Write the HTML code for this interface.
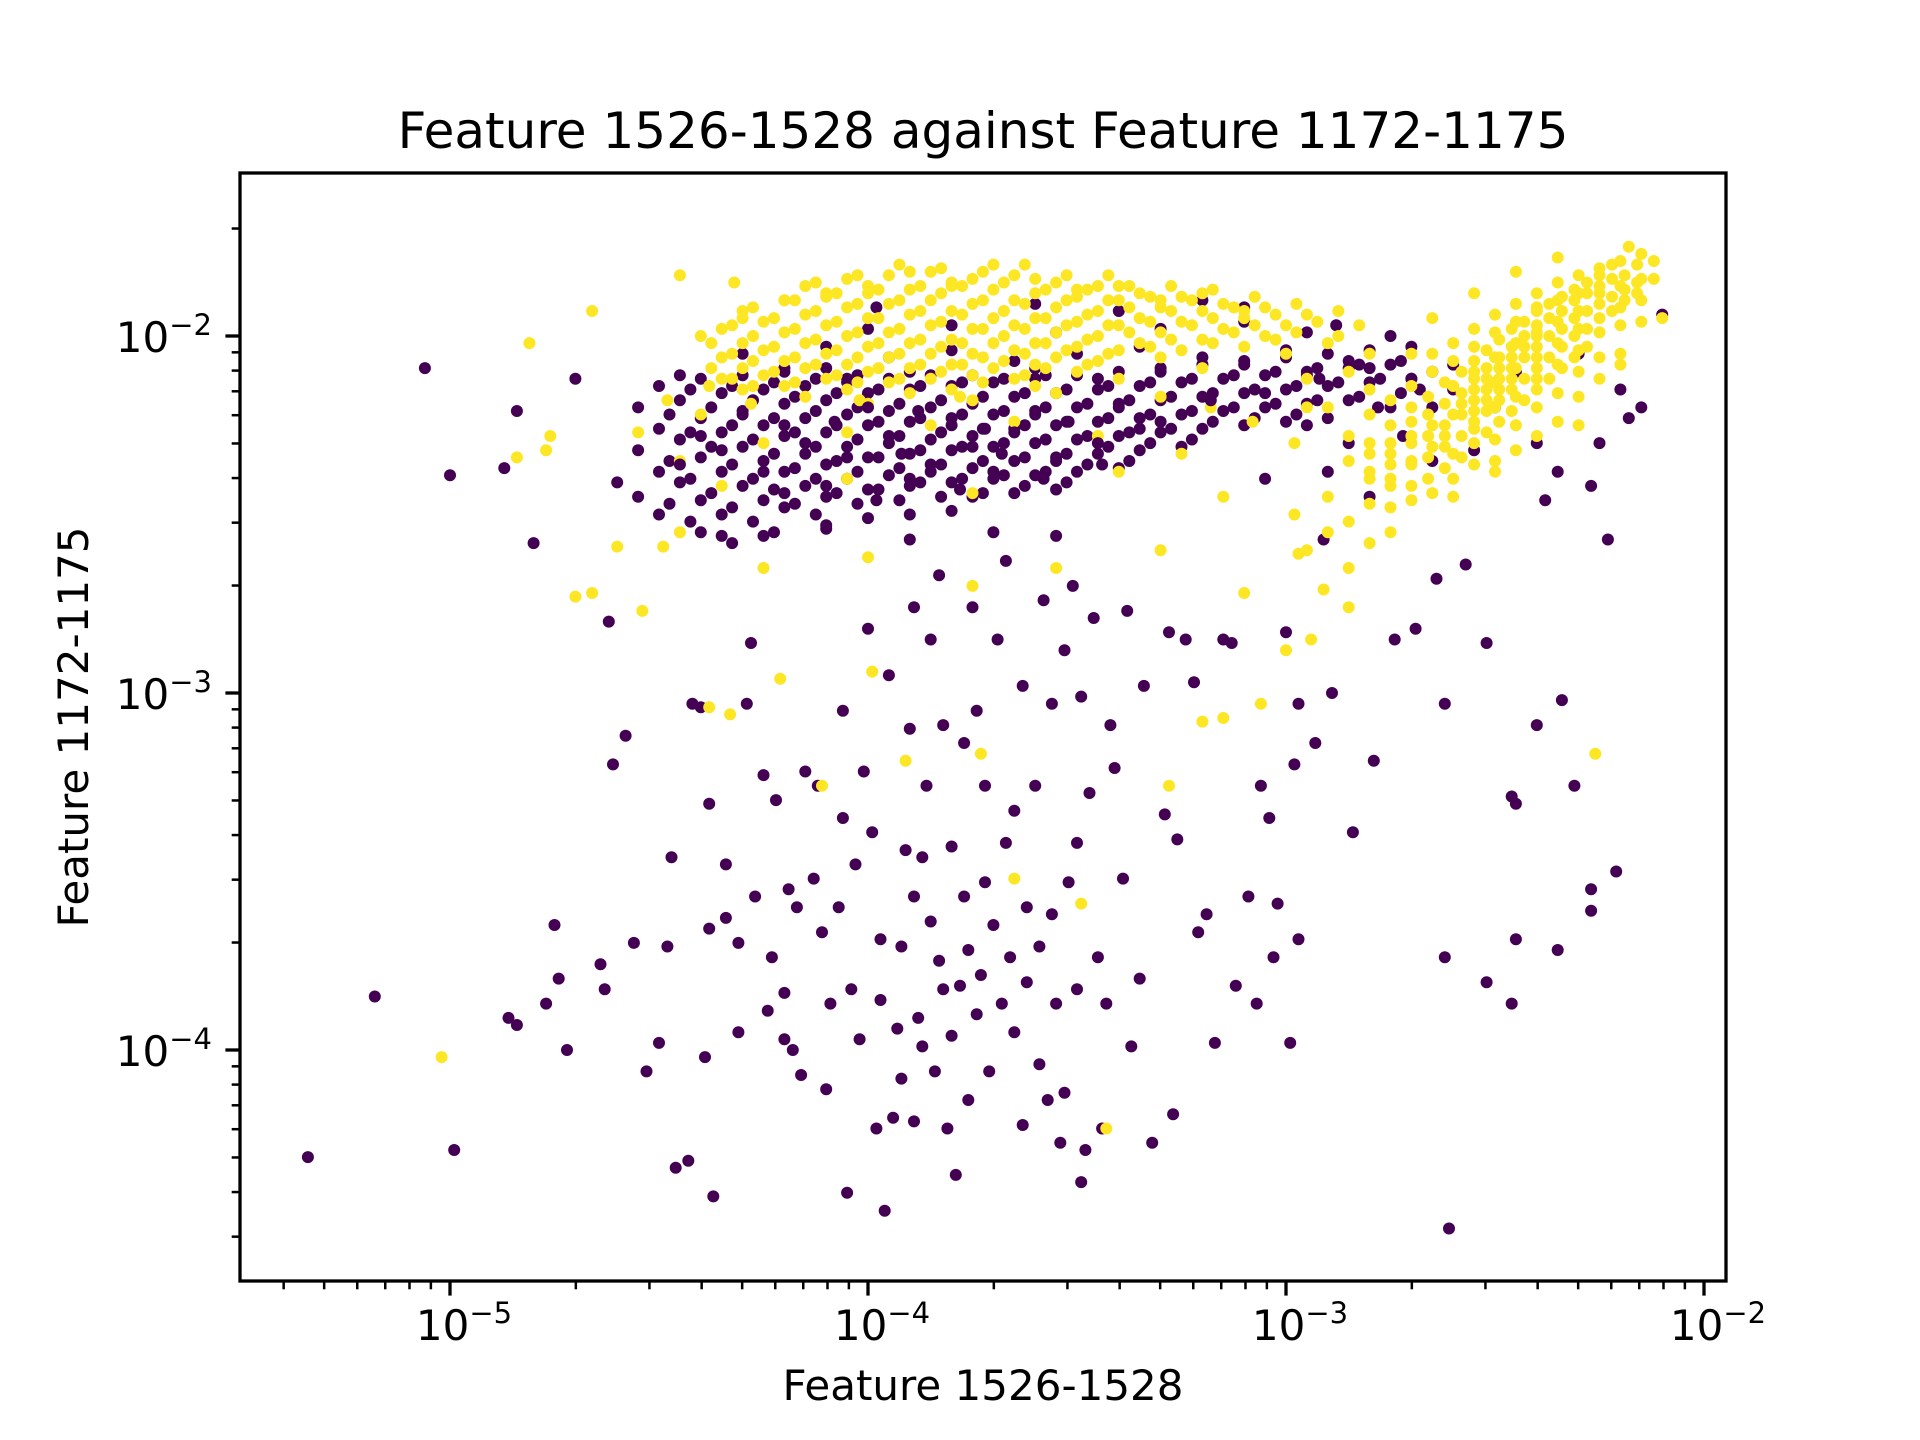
<!DOCTYPE html>
<html><head><meta charset="utf-8"><style>
html,body{margin:0;padding:0;background:#fff;}
svg{display:block;font-family:"DejaVu Sans","Liberation Sans",sans-serif;}
</style></head><body>
<svg id="chart" width="1920" height="1440" viewBox="0 0 1920 1440" xmlns="http://www.w3.org/2000/svg">
<rect width="1920" height="1440" fill="#fff"/>
<text x="983" y="148" font-size="50" text-anchor="middle" fill="#000">Feature 1526-1528 against Feature 1172-1175</text>
<text x="983" y="1400" font-size="42" text-anchor="middle" fill="#000">Feature 1526-1528</text>
<text transform="translate(88,727) rotate(-90)" font-size="42" text-anchor="middle" fill="#000">Feature 1172-1175</text>
<g id="marks"></g>
<g id="axes"></g>
</svg>
<script>
// log10 coordinates [log10(x), log10(y)]
const purpleSparse = [[-5.34,-4.30],[-5.18,-3.85],[-5.06,-2.09],[-5.0,-2.39],[-4.99,-4.28],[-4.86,-3.91],[-4.84,-3.93],[-4.84,-2.21],[-4.87,-2.37],[-4.80,-2.58],[-4.77,-3.87],[-4.75,-3.65],[-4.74,-3.80],[-4.72,-4.0],[-4.70,-2.12],[-4.64,-3.76],[-4.63,-3.83],[-4.62,-2.80],[-4.61,-3.20],[-4.58,-3.12],[-4.56,-3.70],[-4.53,-4.06],[-4.50,-3.98],[-4.48,-3.71],[-4.47,-3.46],[-4.46,-4.33],[-4.43,-4.31],[-4.39,-4.02],[-4.38,-3.66],[-4.38,-3.31],[-4.37,-4.41],[-4.40,-3.04],[-4.42,-3.03],[-4.34,-3.63],[-4.34,-3.48],[-4.31,-3.70],[-4.31,-3.95],[-4.29,-3.03],[-4.28,-2.86],[-4.27,-3.57],[-4.25,-3.23],[-4.24,-3.89],[-4.23,-3.74],[-4.22,-3.30],[-4.20,-3.97],[-4.20,-3.84],[-4.19,-3.55],[-4.18,-4.0],[-4.17,-3.60],[-4.16,-4.07],[-4.15,-3.22],[-4.13,-3.52],[-4.12,-3.26],[-4.11,-3.67],[-4.10,-4.11],[-4.09,-3.87],[-4.07,-3.60],[-4.06,-3.35],[-4.06,-3.05],[-4.05,-4.40],[-4.04,-3.83],[-4.03,-3.48],[-4.02,-3.97],[-4.01,-3.22],[-4.0,-2.82],[-3.99,-3.39],[-3.98,-4.22],[-3.97,-3.69],[-3.97,-3.86],[-3.96,-4.45],[-3.95,-2.95],[-3.94,-4.19],[-3.93,-3.94],[-3.92,-3.71],[-3.92,-4.08],[-3.91,-3.44],[-3.90,-3.10],[-3.89,-3.57],[-3.89,-2.76],[-3.89,-4.20],[-3.88,-3.91],[-3.87,-3.46],[-3.87,-3.99],[-3.86,-3.26],[-3.85,-2.85],[-3.85,-3.64],[-3.84,-4.06],[-3.83,-3.75],[-3.83,-2.67],[-3.82,-3.83],[-3.82,-3.09],[-3.81,-4.22],[-3.80,-3.43],[-3.80,-3.96],[-3.79,-4.35],[-3.78,-3.82],[-3.77,-3.57],[-3.77,-3.14],[-3.76,-4.14],[-3.76,-3.72],[-3.75,-2.76],[-3.74,-3.05],[-3.74,-3.90],[-3.73,-3.79],[-3.72,-3.53],[-3.72,-3.26],[-3.71,-4.06],[-3.70,-3.65],[-3.69,-2.85],[-3.68,-3.87],[-3.67,-3.42],[-3.67,-2.63],[-3.66,-3.74],[-3.65,-3.95],[-3.65,-3.33],[-3.63,-4.21],[-3.63,-2.98],[-3.62,-3.60],[-3.62,-3.81],[-3.60,-3.26],[-3.59,-4.04],[-3.59,-3.71],[-3.58,-2.74],[-3.57,-4.14],[-3.56,-3.03],[-3.56,-3.62],[-3.55,-3.87],[-3.54,-4.26],[-3.53,-2.88],[-3.53,-4.12],[-3.52,-3.53],[-3.51,-2.70],[-3.50,-3.42],[-3.50,-3.83],[-3.49,-4.37],[-3.49,-3.01],[-3.48,-4.28],[-3.47,-3.28],[-3.46,-2.79],[-3.45,-3.74],[-3.44,-4.22],[-3.43,-3.87],[-3.42,-3.09],[-3.41,-3.21],[-3.39,-3.52],[-3.38,-2.77],[-3.37,-3.99],[-3.35,-3.80],[-3.34,-2.98],[-3.32,-4.26],[-3.29,-3.34],[-3.28,-2.83],[-3.27,-4.18],[-3.26,-3.41],[-3.24,-2.85],[-3.22,-2.97],[-3.21,-3.67],[-3.19,-3.62],[-3.17,-3.98],[-3.15,-2.85],[-3.13,-2.86],[-3.12,-3.82],[-3.09,-3.57],[-3.07,-3.87],[-3.06,-3.26],[-3.04,-3.35],[-3.03,-3.74],[-3.02,-3.59],[-3.0,-2.83],[-2.99,-3.98],[-2.98,-3.20],[-2.97,-3.69],[-2.97,-3.03],[-2.93,-3.14],[-2.91,-2.57],[-2.89,-3.0],[-2.84,-3.39],[-2.79,-3.19],[-2.74,-2.85],[-2.69,-2.82],[-2.64,-2.68],[-2.62,-3.03],[-2.62,-3.74],[-2.61,-4.50],[-2.57,-2.64],[-2.52,-2.86],[-2.52,-3.81],[-2.46,-3.87],[-2.46,-3.29],[-2.45,-3.69],[-2.45,-3.31],[-2.40,-3.09],[-2.38,-2.46],[-2.34,-3.02],[-2.31,-3.26],[-2.27,-3.55],[-2.27,-3.61],[-2.27,-2.42],[-2.23,-2.57],[-2.21,-3.50],[-2.18,-2.23],[-2.10,-1.94],[-2.35,-3.72]];
const purpleCluster = [[-4.30,-2.05],[-4.10,-2.03],[-3.95,-2.06],[-3.80,-2.04],[-3.65,-2.07],[-3.50,-2.05],[-3.35,-2.03],[-3.20,-2.06],[-3.00,-2.04],[-2.85,-2.07],[-4.45,-2.11],[-4.20,-2.09],[-4.05,-2.12],[-3.90,-2.10],[-3.75,-2.11],[-3.60,-2.09],[-3.45,-2.12],[-3.30,-2.10],[-3.10,-2.08],[-2.95,-2.11],[-2.80,-2.09],[-2.70,-2.12],[-4.00,-1.98],[-3.80,-1.97],[-3.55,-1.99],[-3.30,-1.98],[-3.10,-1.96],[-2.95,-1.99],[-2.88,-1.97],[-2.75,-2.00],[-3.98,-1.92],[-3.60,-1.91],[-3.40,-1.93],[-3.20,-1.90],[-3.10,-1.92],[-2.95,-2.25],[-2.85,-2.30],[-2.78,-2.20],[-2.72,-2.28],[-2.68,-2.15],[-2.90,-2.38],[-2.80,-2.45],[-3.05,-2.40],[-2.60,-2.08],[-2.65,-2.35],[-2.50,-2.20],[-2.45,-2.10],[-2.40,-2.30],[-2.30,-2.05],[-2.35,-2.38],[-2.55,-2.32],[-2.20,-2.15],[-2.15,-2.20],[-2.25,-2.30],[-4.60,-2.41],[-4.35,-2.56],[-4.10,-2.54],[-3.90,-2.57],[-3.70,-2.55],[-3.55,-2.56]];
// rows: [log10(x), [log10(y) values]]
const purpleRows = [[-4.55,[-2.20,-2.32,-2.45]],[-4.50,[-2.14,-2.26,-2.38,-2.50]],[-4.45,[-2.18,-2.29,-2.41]],[-4.40,[-2.12,-2.23,-2.34,-2.46,-2.55]],[-4.35,[-2.16,-2.27,-2.38,-2.50]],[-4.30,[-2.11,-2.21,-2.31,-2.42]],[-4.25,[-2.15,-2.25,-2.35,-2.46,-2.56]],[-4.20,[-2.10,-2.19,-2.28,-2.38,-2.48]],[-4.15,[-2.14,-2.23,-2.33,-2.42]],[-4.10,[-2.09,-2.18,-2.27,-2.36,-2.45,-2.53]],[-4.05,[-2.13,-2.22,-2.31,-2.40]],[-4.00,[-2.16,-2.25,-2.34,-2.43,-2.51]],[-3.95,[-2.12,-2.21,-2.30,-2.39]],[-3.90,[-2.15,-2.24,-2.33,-2.42,-2.50]],[-3.85,[-2.11,-2.20,-2.29,-2.38]],[-3.80,[-2.14,-2.23,-2.32,-2.41,-2.49]],[-3.75,[-2.19,-2.28,-2.37,-2.45]],[-3.70,[-2.13,-2.22,-2.31,-2.40]],[-3.65,[-2.17,-2.26,-2.35,-2.44]],[-3.60,[-2.12,-2.21,-2.30,-2.39]],[-3.55,[-2.16,-2.25,-2.34,-2.43]],[-3.50,[-2.11,-2.20,-2.29,-2.38]],[-3.45,[-2.15,-2.24,-2.33]],[-3.40,[-2.10,-2.19,-2.28,-2.37]],[-3.35,[-2.14,-2.23,-2.32]],[-3.30,[-2.09,-2.18,-2.27]],[-3.25,[-2.13,-2.22,-2.31]],[-3.20,[-2.08,-2.17,-2.26]],[-3.15,[-2.12,-2.21]],[-3.10,[-2.07,-2.16,-2.25]],[-3.05,[-2.11,-2.20]],[-3.00,[-2.06,-2.15,-2.24]],[-2.95,[-2.10,-2.19]],[-2.90,[-2.05,-2.14,-2.23]],[-2.85,[-2.09,-2.18]],[-2.80,[-2.04,-2.13]],[-2.75,[-2.08,-2.20]],[-2.70,[-2.03,-2.12]]];
const purpleRows2 = [[-4.475,[-2.22,-2.35,-2.47]],[-4.425,[-2.15,-2.27,-2.40,-2.52]],[-4.375,[-2.20,-2.31,-2.44]],[-4.325,[-2.14,-2.25,-2.36,-2.48,-2.58]],[-4.275,[-2.18,-2.29,-2.40,-2.52]],[-4.225,[-2.13,-2.23,-2.33,-2.43,-2.55]],[-4.175,[-2.17,-2.27,-2.37,-2.47]],[-4.125,[-2.12,-2.21,-2.31,-2.40,-2.50]],[-4.075,[-2.16,-2.25,-2.35,-2.44]],[-4.025,[-2.11,-2.20,-2.29,-2.38,-2.47]],[-3.975,[-2.15,-2.24,-2.34,-2.43]],[-3.925,[-2.19,-2.28,-2.37,-2.46]],[-3.875,[-2.14,-2.23,-2.32,-2.41]],[-3.825,[-2.18,-2.27,-2.36,-2.45]],[-3.775,[-2.13,-2.22,-2.31,-2.40]],[-3.725,[-2.17,-2.26,-2.35,-2.44]],[-3.675,[-2.12,-2.21,-2.30,-2.39]],[-3.625,[-2.16,-2.25,-2.34,-2.42]],[-3.575,[-2.11,-2.20,-2.29,-2.38]],[-3.525,[-2.15,-2.24,-2.33,-2.41]],[-3.475,[-2.19,-2.28,-2.36]],[-3.425,[-2.14,-2.23,-2.31]],[-3.375,[-2.18,-2.27,-2.35]],[-3.325,[-2.13,-2.22,-2.30]],[-3.275,[-2.17,-2.26]],[-3.225,[-2.12,-2.21,-2.29]],[-3.175,[-2.16,-2.24]],[-3.125,[-2.11,-2.20]],[-3.075,[-2.15,-2.23]],[-3.025,[-2.10,-2.19]],[-2.975,[-2.14,-2.22]],[-2.925,[-2.09,-2.18]],[-2.875,[-2.13]],[-2.825,[-2.08,-2.17]],[-2.775,[-2.12]],[-2.725,[-2.07,-2.16]],[-2.65,[-2.10,-2.20]],[-2.60,[-2.15]]];
const yellowSparse = [[-5.02,-4.02],[-3.43,-4.22],[-3.65,-3.52],[-3.49,-3.59],[-2.26,-3.17],[-3.20,-3.08],[-3.28,-3.26],[-3.73,-3.17],[-3.99,-2.94],[-3.91,-3.19],[-4.11,-3.26],[-4.38,-3.04],[-4.33,-3.06],[-4.21,-2.96],[-4.70,-2.73],[-4.66,-2.72],[-4.54,-2.77],[-4.49,-2.59],[-4.60,-2.59],[-4.77,-2.32],[-4.76,-2.28],[-4.84,-2.34],[-4.81,-2.02],[-4.66,-1.93],[-4.45,-1.83],[-4.32,-1.85],[-3.15,-3.07],[-3.06,-3.03],[-2.94,-2.85],[-2.85,-2.76],[-3.0,-2.88],[-2.91,-2.71],[-2.97,-2.61],[-4.0,-2.62],[-3.75,-2.70],[-3.55,-2.65],[-3.3,-2.60],[-3.1,-2.72],[-4.25,-2.65],[-4.45,-2.55]];
const yellowCluster = [[-4.40,-2.00],[-4.30,-1.95],[-4.20,-1.90],[-4.10,-1.88],[-4.00,-1.86],[-3.90,-1.82],[-3.80,-1.85],[-3.70,-1.80],[-3.60,-1.84],[-3.50,-1.87],[-3.40,-1.86],[-3.30,-1.90],[-3.20,-1.88],[-3.10,-1.93],[-4.48,-2.18],[-4.38,-2.14],[-4.55,-2.27],[-4.40,-2.22],[-4.28,-2.19],[-4.02,-2.18],[-3.78,-2.17],[-3.55,-2.16],[-3.30,-2.17],[-3.18,-2.20],[-3.08,-2.24],[-4.45,-2.35],[-4.25,-2.30],[-4.05,-2.27],[-3.85,-2.25],[-3.65,-2.24],[-3.45,-2.28],[-3.25,-2.33],[-4.35,-2.42],[-4.05,-2.40],[-3.75,-2.44],[-3.40,-2.38],[-3.15,-2.45],[-2.90,-2.02],[-2.80,-2.05],[-2.95,-2.12]];
const yellowTopRows = [[-4.35,[-1.98,-2.06,-2.12]],[-4.30,[-1.93,-2.02,-2.09,-2.15]],[-4.25,[-1.96,-2.04,-2.11]],[-4.20,[-1.90,-1.99,-2.07,-2.14]],[-4.15,[-1.86,-1.94,-2.02,-2.09,-2.17]],[-4.10,[-1.89,-1.97,-2.05,-2.12]],[-4.05,[-1.84,-1.92,-2.00,-2.08,-2.15]],[-4.00,[-1.88,-1.95,-2.03,-2.10,-2.19]],[-3.95,[-1.83,-1.91,-1.99,-2.06,-2.13]],[-3.90,[-1.87,-1.94,-2.02,-2.09,-2.16]],[-3.85,[-1.82,-1.90,-1.97,-2.05,-2.12]],[-3.80,[-1.86,-1.93,-2.01,-2.08,-2.15]],[-3.75,[-1.84,-1.91,-1.98,-2.05,-2.11,-2.18]],[-3.70,[-1.87,-1.95,-2.02,-2.09]],[-3.65,[-1.83,-1.90,-1.97,-2.04,-2.12]],[-3.60,[-1.88,-1.95,-2.02,-2.08,-2.14]],[-3.55,[-1.85,-1.92,-1.99,-2.06]],[-3.50,[-1.89,-1.96,-2.03,-2.10]],[-3.45,[-1.86,-1.93,-2.00,-2.07]],[-3.40,[-1.90,-1.97,-2.04,-2.12]],[-3.35,[-1.88,-1.95,-2.02]],[-3.30,[-1.92,-1.99,-2.06]],[-3.25,[-1.89,-1.96,-2.04]],[-3.20,[-1.93,-2.01,-2.09]],[-3.15,[-1.91,-1.98]],[-3.10,[-1.95,-2.03]],[-3.05,[-1.92,-2.00]],[-3.00,[-1.97,-2.05]],[-2.95,[-1.94]]];
const yellowTopRows2 = [[-4.375,[-2.02,-2.09]],[-4.325,[-1.97,-2.05,-2.12]],[-4.275,[-1.92,-2.00,-2.07,-2.14]],[-4.225,[-1.95,-2.03,-2.10]],[-4.175,[-1.90,-1.98,-2.06,-2.13]],[-4.125,[-1.85,-1.93,-2.01,-2.08]],[-4.075,[-1.88,-1.96,-2.04,-2.11]],[-4.025,[-1.83,-1.91,-1.99,-2.06,-2.13]],[-3.975,[-1.87,-1.95,-2.02,-2.09]],[-3.925,[-1.80,-1.90,-1.98,-2.05,-2.12]],[-3.875,[-1.86,-1.93,-2.01,-2.08]],[-3.825,[-1.81,-1.88,-1.96,-2.03,-2.10]],[-3.775,[-1.86,-1.94,-2.02,-2.08]],[-3.725,[-1.82,-1.90,-1.98,-2.06,-2.13]],[-3.675,[-1.85,-1.93,-2.00,-2.07]],[-3.625,[-1.80,-1.91,-1.98,-2.05,-2.11]],[-3.575,[-1.87,-1.95,-2.02,-2.09]],[-3.525,[-1.83,-1.90,-1.97,-2.04]],[-3.475,[-1.87,-1.94,-2.01,-2.08]],[-3.425,[-1.83,-1.90,-1.97,-2.05]],[-3.375,[-1.86,-1.92,-1.99]],[-3.325,[-1.89,-1.96,-2.03]],[-3.275,[-1.86,-1.93,-2.01]],[-3.225,[-1.90,-1.97]],[-3.175,[-1.87,-1.95,-2.02]],[-3.125,[-1.92,-1.99]],[-3.075,[-1.89,-1.97]],[-3.025,[-1.94,-2.01]],[-2.975,[-1.91,-1.99]],[-2.925,[-1.96]],[-2.875,[-1.93,-2.00]],[-2.825,[-1.97]]];
const yellowRightRows = [[-2.98,[-2.50,-2.30]],[-2.95,[-2.60,-2.20]],[-2.90,[-2.55,-2.20,-2.45]],[-2.85,[-2.65,-2.10,-2.52,-2.35,-2.28]],[-2.80,[-2.40,-2.47,-2.33,-2.15,-2.58,-2.30,-2.22,-2.38]],[-2.75,[-2.36,-2.42,-2.30,-2.48,-2.55,-2.25,-2.18,-2.33,-2.40]],[-2.70,[-2.30,-2.36,-2.24,-2.42,-2.20,-2.05,-2.14,-2.28,-2.35,-2.46]],[-2.66,[-2.28,-2.22,-2.34,-2.17,-2.40]],[-2.65,[-1.95,-2.10,-2.05,-2.25,-2.31,-2.44]],[-2.62,[-2.25,-2.19,-2.31,-2.13,-2.37,-2.28]],[-2.60,[-2.45,-2.02,-2.07,-2.14,-2.22,-2.33,-2.40]],[-2.58,[-2.22,-2.16,-2.28,-2.10,-2.34,-2.19]],[-2.55,[-2.18,-2.12,-2.24,-2.07,-2.30,-2.15,-2.21,-1.88,-1.98,-2.03,-2.10,-2.26,-2.36]],[-2.52,[-2.15,-2.09,-2.21,-2.04,-2.27,-2.12,-2.18]],[-2.50,[-2.35,-1.94,-1.99,-2.06,-2.13,-2.20,-2.29,-2.38]],[-2.49,[-2.12,-2.06,-2.18,-2.01,-2.24,-2.09,-2.15]],[-2.46,[-2.09,-2.03,-2.15,-1.98,-2.21,-2.06,-2.12]],[-2.45,[-1.82,-1.91,-1.96,-2.02,-2.09,-2.17,-2.25,-2.32]],[-2.43,[-2.06,-2.00,-2.12,-1.96,-2.18,-2.03]],[-2.40,[-2.03,-1.97,-2.09,-1.93,-2.15,-2.00,-1.88,-1.92,-1.99,-2.06,-2.12,-2.20,-2.28]],[-2.37,[-2.00,-1.95,-2.06,-1.91,-2.12]],[-2.35,[-1.78,-1.85,-1.90,-1.96,-2.02,-2.08,-2.16,-2.24]],[-2.34,[-1.98,-1.93,-2.03,-1.89,-2.09]],[-2.31,[-1.95,-1.90,-2.00,-1.87,-2.06]],[-2.30,[-2.25,-1.83,-1.88,-1.93,-1.98,-2.04,-2.10,-2.17]],[-2.28,[-1.93,-1.88,-1.98,-1.85,-2.03]],[-2.25,[-1.91,-1.86,-1.95,-1.83,-1.81,-1.88,-1.99,-2.06,-2.12]],[-2.22,[-1.89,-1.84,-1.93,-1.80]],[-2.20,[-2.05,-1.79,-1.86,-1.92,-1.97,-2.08]],[-2.19,[-1.87,-1.83,-1.90]],[-2.18,[-1.75]],[-2.16,[-1.85,-1.80,-1.88]],[-2.15,[-1.77,-1.84,-1.90,-1.96]],[-2.12,[-1.84,-1.79]],[-2.10,[-1.95]]];
const purpleTop = [[-4.15,-2.30],[-4.05,-2.34],[-3.95,-2.28],[-3.85,-2.36],[-3.75,-2.31],[-3.65,-2.27],[-3.55,-2.35],[-4.25,-2.38],[-4.10,-2.42],[-3.90,-2.40],[-3.70,-2.38],[-3.60,-2.22],[-3.80,-2.25],[-4.00,-2.20],[-4.20,-2.25],[-3.45,-2.30],[-3.35,-2.26],[-4.35,-2.32],[-3.92,-2.33],[-3.68,-2.33],[-4.30,-2.22],[-4.40,-2.28],[-4.08,-2.24],[-3.88,-2.21],[-3.72,-2.26],[-3.52,-2.24],[-3.40,-2.20],[-3.30,-2.24],[-3.18,-2.18],[-3.05,-2.16],[-2.92,-2.12],[-4.45,-2.36],[-4.20,-2.44],[-3.98,-2.46],[-3.78,-2.43],[-3.58,-2.40],[-3.44,-2.36]];
const xTickLabels = ['−5','−4','−3','−2'];
const xTickExps = [-5,-4,-3,-2];
const yTickLabels = ['−4','−3','−2'];
const yTickExps = [-4,-3,-2];

const L=240,R=1726,T=173,B=1281;
function xs(lx){return 450+(lx+5)*418;}
function ys(ly){return 336-(ly+2)*357;}
const NS='http://www.w3.org/2000/svg';
const marks=document.getElementById('marks');
const axes=document.getElementById('axes');
function dot(p,color,name){
  const c=document.createElementNS(NS,'circle');
  c.setAttribute('cx',xs(p[0]).toFixed(1));
  c.setAttribute('cy',ys(p[1]).toFixed(1));
  c.setAttribute('r','6');
  c.setAttribute('fill',color);
  
  
  marks.appendChild(c);
}
function rows(r,color,name){r.forEach(row=>row[1].forEach(v=>dot([row[0],v],color,name)));}
purpleSparse.forEach(p=>dot(p,'#440154','point-class-0'));
purpleCluster.forEach(p=>dot(p,'#440154','point-class-0'));
rows(purpleRows,'#440154','point-class-0');
rows(purpleRows2,'#440154','point-class-0');
yellowSparse.forEach(p=>dot(p,'#fde725','point-class-1'));
yellowCluster.forEach(p=>dot(p,'#fde725','point-class-1'));
rows(yellowTopRows,'#fde725','point-class-1');
rows(yellowTopRows2,'#fde725','point-class-1');
rows(yellowRightRows,'#fde725','point-class-1');
purpleTop.forEach(p=>dot(p,'#440154','point-class-0'));

function line(x1,y1,x2,y2,w,name){
  const l=document.createElementNS(NS,'line');
  l.setAttribute('x1',x1);l.setAttribute('y1',y1);l.setAttribute('x2',x2);l.setAttribute('y2',y2);
  l.setAttribute('stroke','#000');l.setAttribute('stroke-width',w);
  
  
  axes.appendChild(l);
}
const frame=document.createElementNS(NS,'rect');
frame.setAttribute('x',L);frame.setAttribute('y',T);frame.setAttribute('width',R-L);frame.setAttribute('height',B-T);
frame.setAttribute('fill','none');frame.setAttribute('stroke','#000');frame.setAttribute('stroke-width','3.3');


axes.appendChild(frame);

for(let e=-6;e<=-2;e++){
  for(let m=1;m<10;m++){
    const lx=e+Math.log10(m);
    const x=xs(lx);
    if(x<L||x>R) continue;
    line(x,B,x,B+(m===1?14.6:8.3),m===1?3.3:2.5,m===1?'x-major-tick':'x-minor-tick');
  }
  for(let m=1;m<10;m++){
    const ly=e+Math.log10(m);
    const y=ys(ly);
    if(y<T||y>B) continue;
    line(L,y,L-(m===1?14.6:8.3),y,m===1?3.3:2.5,m===1?'y-major-tick':'y-minor-tick');
  }
}
function tickLabel(x,y,anchor,exp,name){
  const t=document.createElementNS(NS,'text');
  t.setAttribute('x',x);t.setAttribute('y',y);
  t.setAttribute('text-anchor',anchor);t.setAttribute('font-size','42');
  
  
  const s1=document.createElementNS(NS,'tspan');s1.textContent='10';
  const s2=document.createElementNS(NS,'tspan');s2.textContent=exp;
  s2.setAttribute('font-size','29');s2.setAttribute('dy','-17');
  t.appendChild(s1);t.appendChild(s2);
  axes.appendChild(t);
}
xTickExps.forEach((e,i)=>tickLabel(xs(e)+14,1340,'middle',xTickLabels[i],'x-tick-label'));
yTickExps.forEach((e,i)=>tickLabel(212,ys(e)+16,'end',yTickLabels[i],'y-tick-label'));
</script>
</body></html>
